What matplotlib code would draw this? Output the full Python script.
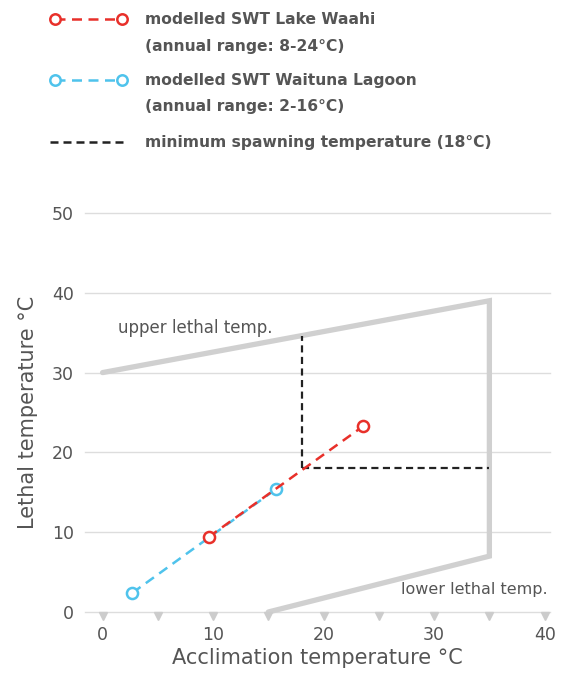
import numpy as np
import matplotlib
matplotlib.use("Agg")
import matplotlib.pyplot as plt
from matplotlib.lines import Line2D

plt.rcParams['font.family'] = ['DejaVu Sans']

# lethal temperature envelope (acclimation, lethal)
lethal_x = [0, 35, 35, 15]
lethal_y = [30, 39, 7, 0]

# modelled surface water temperatures
waahi_x = [9.6, 23.6]
waahi_y = [9.4, 23.3]
waituna_x = [2.7, 15.7]
waituna_y = [2.4, 15.4]

# minimum spawning temperature
spawn_t = 18

xticks = [0, 10, 20, 30, 40]
yticks = [0, 10, 20, 30, 40, 50]
tick_marks = np.arange(0, 41, 5)

txt = '#555555'
grey = '#d0d0d0'
red = '#e8302a'
blue = '#4fc3ec'

fig = plt.figure(figsize=(5.66, 6.74), dpi=100)
ax = fig.add_axes([0.150, 0.092, 0.822, 0.592])

for y in yticks:
    ax.axhline(y, color='#dddddd', lw=1, zorder=0, clip_on=False)

ax.plot(lethal_x, lethal_y, color=grey, lw=3.8, solid_capstyle='round',
        solid_joinstyle='miter', zorder=1, clip_on=False)

# spawning threshold: up to the upper lethal line, across to the envelope edge
upper_at_spawn = np.interp(spawn_t, lethal_x[:2], lethal_y[:2])
ax.plot([spawn_t, spawn_t], [spawn_t, upper_at_spawn], color='#222222', lw=1.6,
        ls=(0, (3.2, 2)), zorder=2)
ax.plot([spawn_t, lethal_x[1]], [spawn_t, spawn_t], color='#222222', lw=1.6,
        ls=(0, (3.2, 2)), zorder=2)

ax.plot(waituna_x, waituna_y, color=blue, lw=1.8, ls=(0, (4, 2.6)), marker='o',
        ms=8, mfc='white', mec=blue, mew=1.8, zorder=3)
ax.plot(waahi_x, waahi_y, color=red, lw=1.8, ls=(0, (4, 2.6)), marker='o',
        ms=8, mfc='white', mec=red, mew=1.8, zorder=4)

ax.plot(tick_marks, np.full(len(tick_marks), -0.5), ls='none', marker='v', ms=6,
        color='#cccccc', clip_on=False, zorder=1)

ax.text(1.4, 35.6, 'upper lethal temp.', color=txt, fontsize=12, ha='left', va='center')
ax.text(40.3, 2.8, 'lower lethal temp.', color=txt, fontsize=11.5, ha='right', va='center')

ax.set_xlim(-1.6, 40.5)
ax.set_ylim(0, 50)
ax.set_xticks(xticks)
ax.set_yticks(yticks)
ax.tick_params(length=0, labelsize=12.5, labelcolor=txt)
ax.tick_params(axis='x', pad=10)
ax.tick_params(axis='y', pad=8)
for s in ax.spines.values():
    s.set_visible(False)
ax.set_xlabel('Acclimation temperature °C', fontsize=15, color=txt, labelpad=3)
ax.set_ylabel('Lethal temperature °C', fontsize=15, color=txt, labelpad=10)

# legend drawn in figure pixels
W, H = 566, 674


def fx(px):
    return px / W


def fy(py):
    return 1 - py / H


def legend_line(y, color):
    fig.add_artist(Line2D([fx(55), fx(122)], [fy(y), fy(y)], color=color, lw=1.8,
                          ls=(0, (4, 2.6)), marker='o', ms=7.5, mfc='white',
                          mec=color, mew=1.8, transform=fig.transFigure))


legend_line(19, red)
legend_line(80, blue)
fig.add_artist(Line2D([fx(50), fx(124)], [fy(142), fy(142)], color='#222222', lw=1.8,
                      ls=(0, (3.2, 2)), transform=fig.transFigure))

leg_kw = dict(fontsize=11.2, fontweight='bold', color=txt, va='center', ha='left')
fig.text(fx(145), fy(19), 'modelled SWT Lake Waahi', **leg_kw)
fig.text(fx(145), fy(47), '(annual range: 8-24°C)', **leg_kw)
fig.text(fx(145), fy(80), 'modelled SWT Waituna Lagoon', **leg_kw)
fig.text(fx(145), fy(107), '(annual range: 2-16°C)', **leg_kw)
fig.text(fx(145), fy(142), 'minimum spawning temperature (18°C)', **leg_kw)

fig.savefig('out.png', dpi=100)
